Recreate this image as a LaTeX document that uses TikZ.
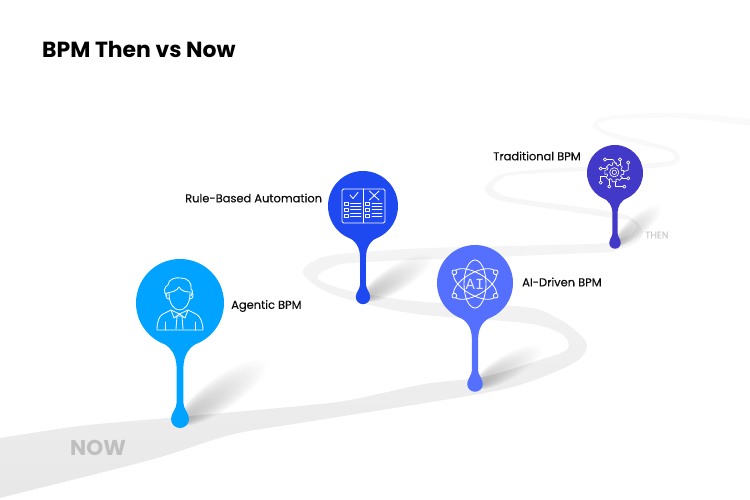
\documentclass[tikz,border=0pt]{standalone}
\usepackage{fontspec}
\setmainfont{Poppins}
\newfontfamily\monoai{Liberation Mono}
\newfontfamily\lblfont[FakeBold=0.2]{Poppins}
\definecolor{cagent}{HTML}{00A3FF}
\definecolor{crule}{HTML}{1E48F0}
\definecolor{caidr}{HTML}{5570FF}
\definecolor{ctrad}{HTML}{4239C8}
\tikzset{
  labeltext/.style={anchor=west,inner sep=0pt,text=black!95,font=\lblfont\fontsize{11.45}{13}\selectfont},
  icon/.style={draw=white,line width=0.85pt,line join=round,line cap=round},
}
\newcommand{\pinbody}[5]{%
  \pgfmathsetmacro{\s}{#3/44}
  \pgfmathsetmacro{\w}{1+2.4*\s}
  \pgfmathsetmacro{\D}{#4-#2}
  \begin{scope}[shift={(#1,#2)}]
    \fill[#5] (0,0) circle[radius=#3pt];
    \fill[#5] (-20*\s,38*\s) .. controls (-10*\s,44*\s) and (-\w,50*\s) .. (-\w,66*\s)
      -- (-\w,\D-16*\s) .. controls (-\w,\D-10*\s) and (-9*\s,\D-6*\s) .. (-9*\s,\D)
      .. controls (-9*\s,\D+5*\s) and (-5*\s,\D+9*\s) .. (0,\D+9*\s)
      .. controls (5*\s,\D+9*\s) and (9*\s,\D+5*\s) .. (9*\s,\D)
      .. controls (9*\s,\D-6*\s) and (\w,\D-10*\s) .. (\w,\D-16*\s)
      -- (\w,66*\s) .. controls (\w,50*\s) and (10*\s,44*\s) .. (20*\s,38*\s) -- cycle;
  \end{scope}}
\newcommand{\dropshadow}[4]{%
  \begin{scope}[shift={(#1,#2)},rotate=#4]
    \foreach \i in {1,...,30}{
      \pgfmathsetmacro{\ll}{#3*\i/30}
      \pgfmathsetmacro{\hh}{(1+#3*0.14)*(\i/30)+1.5}
      \fill[black,opacity=0.0095] (\ll/2,0) ellipse[x radius=\ll/2 pt+3pt,y radius=\hh pt];
    }
  \end{scope}}
\begin{document}
\begin{tikzpicture}[x=1pt,y=-1pt]
\useasboundingbox (0,0) rectangle (750,500);
\fill[white] (0,0) rectangle (750,500);
% road
\begin{scope}
\clip (0,0) rectangle (750,500);
\path[top color=black!2,bottom color=black!9.5,middle color=black!5.5]
 plot[smooth cycle,tension=0.55] coordinates {
 (-30,442)(0,438)(80,426)(167,418)(300,406)(350,400)(425,384)(483,377)(540,360)(563,352)(569,345)(560,333)(525,323)(425,315)(370,305)(325,291)(303,272)(323,257)(367,252)(430,248)(590,244)(612,241)(630,235)(637,226)(628,220)(613,218)(580,213)(513,203)(493,198)(485,188)(497,176)(513,172)(560,168)(610,166)(650,163)(670,161)(675,157)(665,150)(620,140)(600,132)(593,125)(600,118)(620,115)(680,113)(760,120)
 (760,126)(680,118)(620,119)(605,121)(598,125)(604,130)(620,135)(668,147)(680,158)(672,165)(650,168)(560,172)(513,175)(500,179)(493,188)(499,193)(513,198)(580,207)(613,212)(632,218)(643,232)(635,243)(613,251)(590,253)(367,262)(333,267)(317,277)(330,285)(360,293)(425,302)(525,307)(557,318)(576,331)(587,345)(577,361)(540,378)(500,390)(425,403)(300,423)(230,435)(150,460)(0,498)(-30,507)
 };
\foreach \x in {670,677,...,740}{
  \fill[white,opacity=0.14] (\x,106) rectangle (751,134);
}
\end{scope}
% shadows
\dropshadow{182}{421}{100}{35}
\dropshadow{365}{298}{76}{32}
\dropshadow{477}{385}{72}{30}
\dropshadow{617}{243}{54}{40}
% pins
\pinbody{180}{303}{44}{419}{cagent}
\pinbody{363}{206}{35}{297}{crule}
\pinbody{475}{283}{38}{384}{caidr}
\pinbody{615}{173}{28}{243}{ctrad}
% person icon
\draw[icon] (167,296) .. controls (163,292) and (164,287) .. (168,285) .. controls (168,279) and (176,277) .. (181,278) .. controls (188,278) and (192,283) .. (191,289) .. controls (193,290) and (193,294) .. (191,296);
\draw[icon] (167,293) .. controls (172,292) and (177,291) .. (179,287) .. controls (182,292) and (187,292) .. (191,292);
\draw[icon] (169,293) .. controls (169,304) and (174,310) .. (179.5,310) .. controls (185,310) and (190,304) .. (190,293);
\draw[icon] (167,293) .. controls (165,295) and (166,299) .. (169,299);
\draw[icon] (192,293) .. controls (194,295) and (193,299) .. (190,299);
\draw[icon] (157,330) .. controls (157,322) and (159,316) .. (163,314) -- (171,310) -- (179.5,314) -- (188,310) -- (196,314) .. controls (200,316) and (203,322) .. (203,330) -- cycle;
\draw[icon] (171,310) -- (174,318) -- (179.5,314) -- (185,318) -- (188,310);
\draw[icon] (177,316) -- (182,316) -- (183,329) (177,316) -- (176,329);
\draw[icon] (165,322) -- (165,330) (195,322) -- (195,330);
% checklist icon
\draw[icon,rounded corners=1.5pt] (342,189) rectangle (385,223);
\draw[icon] (363.5,189) -- (363.5,223);
\draw[icon] (350,195) -- (353,198.5) -- (358,192.5);
\draw[icon] (369.5,191) -- (379,200) (379,191) -- (369.5,200);
\foreach \y in {203.5,209.5,215.5}{
  \draw[icon,line width=0.65pt] (344.5,\y-1.5) rectangle (348,\y+1.5);
  \draw[icon,line width=0.65pt] (365.5,\y-1.5) rectangle (369,\y+1.5);
}
\foreach \y in {203,206.5,209.5,213,216.5}{
  \draw[icon,line width=0.65pt] (350.5,\y) -- (361,\y);
  \draw[icon,line width=0.65pt] (372,\y) -- (382,\y);
}
% atom icon
\begin{scope}[shift={(475,284)}]
\draw[icon] (0,0) ellipse[x radius=11pt,y radius=24pt];
\draw[icon,rotate=60] (0,0) ellipse[x radius=11pt,y radius=24pt];
\draw[icon,rotate=-60] (0,0) ellipse[x radius=11pt,y radius=24pt];
\foreach \p/\q in {-20.7/-11.7,20.7/-11.7,-20.7/11.7,20.7/11.7}{
  \filldraw[icon,fill=caidr] (\p,\q) circle[radius=2.4pt];
}
\node[inner sep=0pt,text=white,text opacity=0.85,font=\monoai\fontsize{15.5}{16}\selectfont] (aitext) at (0,0) {AI};
\end{scope}
% circuit icon
\begin{scope}[shift={(614.3,172.3)}]
\foreach \a in {0,45,...,315}{
  \draw[icon,line width=0.65pt] (\a-12:9.6) -- (\a+12:9.6) -- (\a+20:7.4) -- (\a+33:7.4) -- (\a+45-12:9.6);
}
\draw[icon,line width=0.65pt] (0,0) circle[radius=4.6pt];
\draw[icon,line width=0.65pt] (0,0) circle[radius=2.2pt];
\end{scope}
\begin{scope}[icon,line width=0.65pt]
\draw (607,159.5) -- (613,159.5) -- (616,164);
\draw (605,159.5) circle[radius=1.6pt];
\draw (620,161.5) -- (620,165);
\draw (620,159.5) circle[radius=1.6pt];
\draw (628.3,164.5) -- (628.3,170) -- (624,171.5);
\draw (628.3,162.5) circle[radius=1.6pt];
\draw (602.3,168.5) -- (606,168.5);
\draw (600.7,168.5) circle[radius=1.6pt];
\draw (600.7,181) -- (600.7,176.5) -- (606,176.5);
\draw (600.7,182.6) circle[radius=1.6pt];
\draw (609.3,185) -- (609.3,179);
\draw (609.3,186.6) circle[radius=1.6pt];
\draw (622.8,186.6) -- (615,186.6) -- (615,182);
\draw (624.4,186.6) circle[radius=1.6pt];
\draw (626.7,178.3) -- (622.5,178.3);
\draw (628.3,178.3) circle[radius=1.6pt];
\end{scope}
% texts
\node[anchor=west,inner sep=0pt,text=black,font=\fontsize{21.9}{24}\selectfont\bfseries] (title) at (42,49) {BPM Then vs Now};
\node[labeltext] (lagent) at (231,306) {Agentic BPM};
\node[labeltext] (lrule) at (185,198) {Rule-Based Automation};
\node[labeltext] (laidr) at (522,282) {AI-Driven BPM};
\node[labeltext] (ltrad) at (493,156) {Traditional BPM};
\node[anchor=west,inner sep=0pt,text=black!25,font=\fontsize{21.5}{23}\selectfont\bfseries] (now) at (70,447.5) {NOW};
\node[anchor=west,inner sep=0pt,text=black!22,font=\lblfont\fontsize{9.5}{10}\selectfont] (then) at (645,235) {THEN};
\end{tikzpicture}
\end{document}
